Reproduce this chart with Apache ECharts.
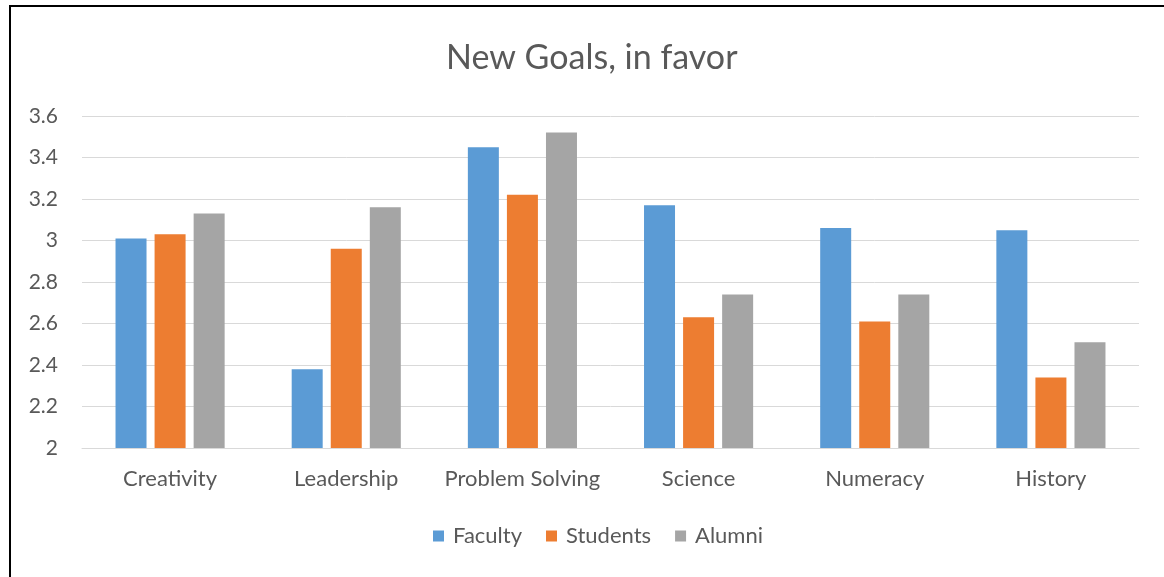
<!DOCTYPE html>
<html><head><meta charset="utf-8">
<script src="https://cdn.jsdelivr.net/npm/echarts@6/dist/echarts.min.js"></script>
<style>
html,body{margin:0;padding:0;background:#fff;}
#frame{position:absolute;left:9px;top:5px;width:1200px;height:600px;border-left:2px solid #000;border-top:2px solid #000;}
#c{position:absolute;left:0;top:0;width:1164px;height:577px;}
</style></head>
<body>
<div id="frame"></div>
<div id="c"></div>
<script>
const categories = ['Creativity','Leadership','Problem Solving','Science','Numeracy','History'];
const faculty  = [3.01, 2.38, 3.45, 3.17, 3.06, 3.05];
const students = [3.03, 2.96, 3.22, 2.63, 2.61, 2.34];
const alumni   = [3.13, 3.16, 3.52, 2.74, 2.74, 2.51];
const seriesNames = ['Faculty','Students','Alumni'];
const colors = ['#5B9BD5','#ED7D31','#A5A5A5'];
const font = 'Lato, "Open Sans", sans-serif';
const chart = echarts.init(document.getElementById('c'));
chart.setOption({
  animation:false,
  title:{text:'New Goals, in favor',left:441,top:36,textStyle:{fontFamily:font,fontSize:34,fontWeight:'normal',color:'#595959'}},
  legend:{data:seriesNames,bottom:25,left:428,itemWidth:11,itemHeight:11,itemGap:24,icon:'rect',
    textStyle:{fontFamily:font,fontSize:22,color:'#595959',padding:[0,0,0,4]}},
  grid:{left:82,right:25,top:116,bottom:129,containLabel:false},
  xAxis:{type:'category',data:categories,axisTick:{show:false},
    axisLine:{lineStyle:{color:'#D9D9D9',width:1}},
    axisLabel:{fontFamily:font,fontSize:22,color:'#595959',margin:20,interval:0}},
  yAxis:{type:'value',min:2,max:3.6,interval:0.2,
    axisLabel:{fontFamily:font,fontSize:21,color:'#595959',margin:24,formatter:v=>String(+v.toFixed(1))},
    splitLine:{lineStyle:{color:'#D9D9D9',width:1}},axisLine:{show:false},axisTick:{show:false}},
  series:[
    {name:seriesNames[0],type:'bar',data:faculty,itemStyle:{color:colors[0]},barWidth:31,barGap:'26%'},
    {name:seriesNames[1],type:'bar',data:students,itemStyle:{color:colors[1]},barWidth:31,barGap:'26%'},
    {name:seriesNames[2],type:'bar',data:alumni,itemStyle:{color:colors[2]},barWidth:31,barGap:'26%'}
  ]
});
</script>
</body></html>
